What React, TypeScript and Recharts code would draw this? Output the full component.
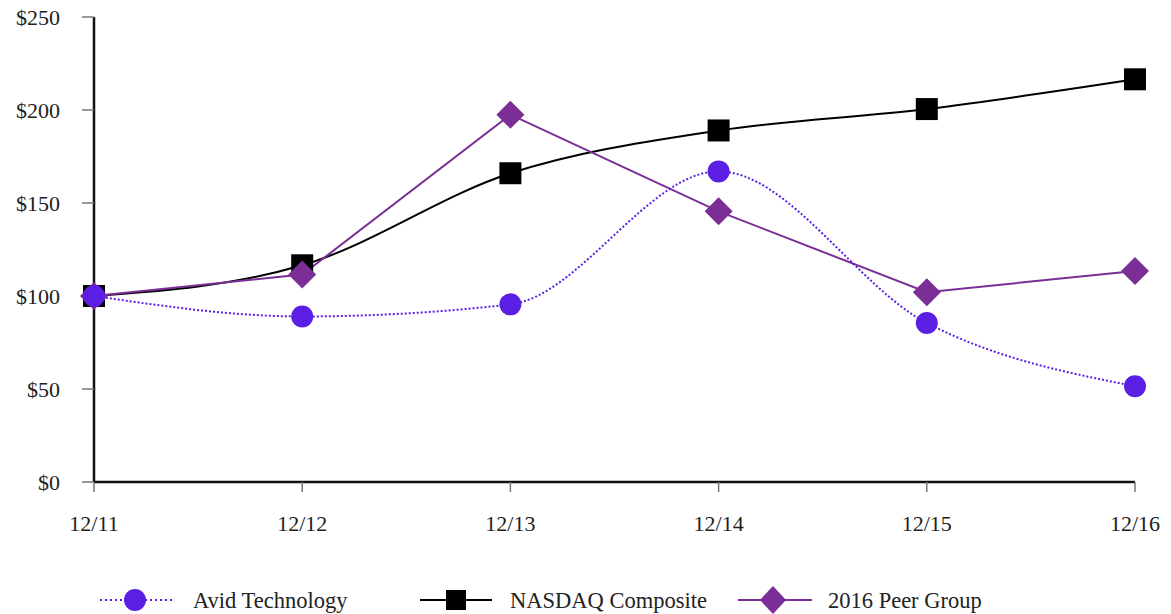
import React from 'react';
import { LineChart, Line, XAxis, YAxis, Legend } from 'recharts';

const years = ['12/11', '12/12', '12/13', '12/14', '12/15', '12/16'];
const avidValues = [100, 89, 95.5, 167, 85.5, 51.5];
const nasdaqValues = [100, 116.5, 166, 189, 200.5, 216.5];
const peerValues = [100, 111.5, 197.5, 145.5, 102, 113.5];
const yTicks = [0, 50, 100, 150, 200, 250];

const AVID = '#5b1fe3';
const PEER = '#7a2e96';
const FONT = '"Liberation Serif", "Times New Roman", serif';

const data = years.map((year, i) => ({
  year,
  avid: avidValues[i],
  nasdaq: nasdaqValues[i],
  peer: peerValues[i],
}));

const CircleDot = (props: any) => {
  const { cx, cy, index } = props;
  return <circle key={`c-${index}`} cx={cx} cy={cy} r={11} fill={AVID} />;
};

const SquareDot = (props: any) => {
  const { cx, cy, index } = props;
  return <rect key={`s-${index}`} x={cx - 11} y={cy - 11} width={22} height={22} fill="#000" />;
};

const DiamondDot = (props: any) => {
  const { cx, cy, index } = props;
  const r = 14;
  return (
    <polygon
      key={`d-${index}`}
      points={`${cx},${cy - r} ${cx + r},${cy} ${cx},${cy + r} ${cx - r},${cy}`}
      fill={PEER}
    />
  );
};

const LegendRow = () => (
  <svg width={1171} height={34} style={{ display: 'block' }}>
    {/* Avid */}
    <line x1={100} y1={17} x2={175} y2={17} stroke={AVID} strokeWidth={2} strokeDasharray="2 3" />
    <circle cx={135} cy={17} r={11} fill={AVID} />
    <text x={193} y={25} fontFamily={FONT} fontSize={22.5} fill="#222">Avid Technology</text>
    {/* NASDAQ */}
    <line x1={420} y1={17} x2={492} y2={17} stroke="#000" strokeWidth={2} />
    <rect x={446} y={7} width={20} height={20} fill="#000" />
    <text x={510} y={25} fontFamily={FONT} fontSize={22.5} fill="#222">NASDAQ Composite</text>
    {/* Peer */}
    <line x1={738} y1={17} x2={812} y2={17} stroke={PEER} strokeWidth={2} />
    <polygon points="773,3 786,17 773,31 760,17" fill={PEER} />
    <text x={828} y={25} fontFamily={FONT} fontSize={22.5} fill="#222">2016 Peer Group</text>
  </svg>
);

export default function App() {
  return (
    <div style={{ position: 'absolute', left: 0, top: 0, background: '#fff' }}>
      <LineChart
        width={1171}
        height={614}
        data={data}
        margin={{ top: 17, right: 36, left: 0, bottom: 58 }}
      >
        <XAxis
          dataKey="year"
          axisLine={{ stroke: '#111', strokeWidth: 2.5 }}
          tickLine={{ stroke: '#777', strokeWidth: 1.5 }}
          tickSize={10}
          tickMargin={23}
          tick={{ fill: '#222', fontFamily: FONT, fontSize: 22 }}
          height={40}
          interval={0}
        />
        <YAxis
          domain={[0, 250]}
          ticks={yTicks}
          tickFormatter={(v: number) => `$${v}`}
          axisLine={{ stroke: '#111', strokeWidth: 2.5 }}
          tickLine={{ stroke: '#777', strokeWidth: 1.5 }}
          tickSize={12}
          tickMargin={22}
          tick={{ fill: '#222', fontFamily: FONT, fontSize: 22 }}
          width={94}
        />
        <Legend
          content={() => <LegendRow />}
          wrapperStyle={{ position: 'absolute', left: 0, top: 583, width: 1171 }}
        />
        <Line
          dataKey="nasdaq"
          type="monotone"
          stroke="#000"
          strokeWidth={2}
          dot={SquareDot}
          activeDot={false}
          isAnimationActive={false}
        />
        <Line
          dataKey="peer"
          type="linear"
          stroke={PEER}
          strokeWidth={2}
          dot={DiamondDot}
          activeDot={false}
          isAnimationActive={false}
        />
        <Line
          dataKey="avid"
          type="monotone"
          stroke={AVID}
          strokeWidth={2}
          strokeDasharray="2 2"
          dot={CircleDot}
          activeDot={false}
          isAnimationActive={false}
        />
      </LineChart>
    </div>
  );
}
